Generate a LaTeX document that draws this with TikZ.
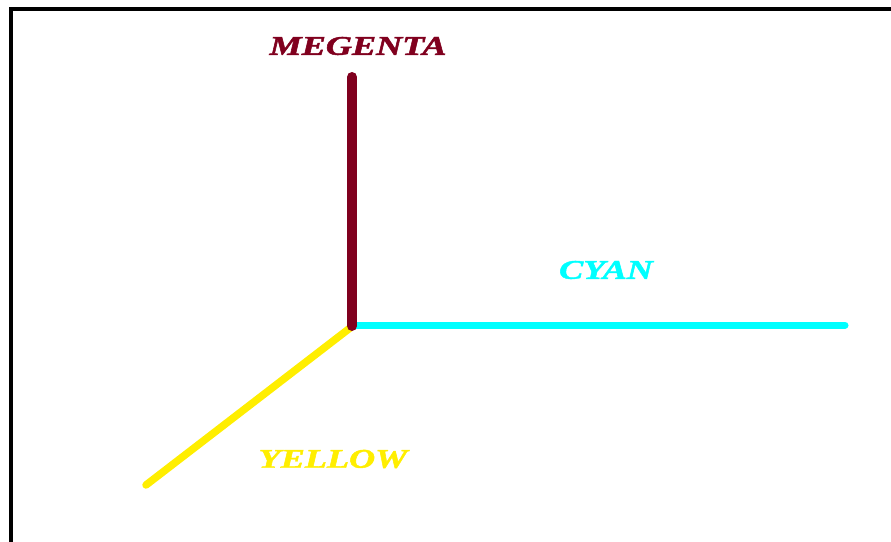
\documentclass[tikz,border=0pt]{standalone}
\usepackage{fontspec}
\setmainfont{Liberation Serif}
\usetikzlibrary{positioning, calc}
\definecolor{cmagenta}{HTML}{80001E}
\definecolor{ccyan}{HTML}{00FFFF}
\definecolor{cyellow}{HTML}{FFEE00}
\tikzset{
  every picture/.style={x=1pt, y=-1pt},
  axis/.style={draw=#1, line cap=round},
  axislabel/.style={text=#1, font=\fontsize{27}{27}\selectfont\bfseries\itshape\addfontfeature{FakeBold=1.5}, xscale=1.34, inner sep=0pt},
}
\begin{document}
\begin{tikzpicture}
  \useasboundingbox (0,0) rectangle (891,541);
  \draw[line width=3.5pt] (11,9) rectangle (900,560);
  % axes
  \coordinate (origin) at (352,326);
  \coordinate (mtop) at (352,77);
  \coordinate (cend) at (845,325);
  \coordinate (yend) at (146,485);
  \draw[axis=cyellow, line width=7.5pt] ($(origin)+(-2,2)$) -- (yend);
  \draw[axis=ccyan, line width=7pt] (origin |- cend) -- (cend);
  \draw[axis=cmagenta, line width=10pt] (origin) -- (mtop);
  % labels
  \node[axislabel=cmagenta] (mlabel) at (358,46) {MEGENTA};
  \node[axislabel=ccyan] (clabel) at (606,270) {CYAN};
  \node[axislabel=cyellow] (ylabel) at (333,459) {YELLOW};
\end{tikzpicture}
\end{document}
